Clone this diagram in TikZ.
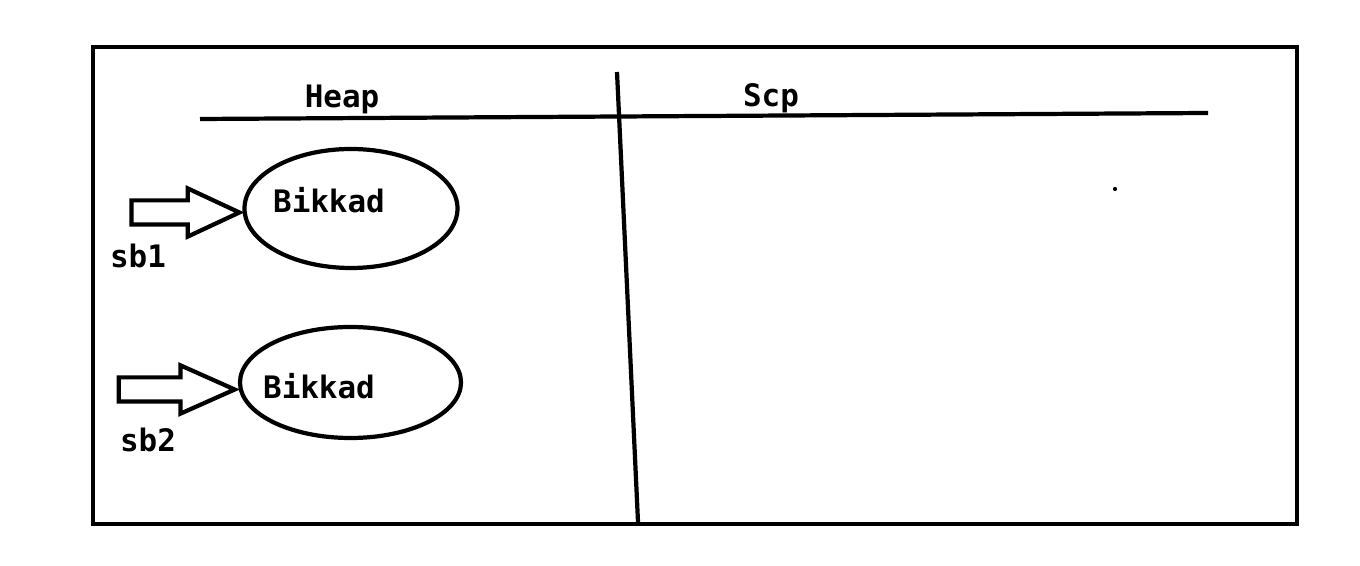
\documentclass[tikz,border=0pt]{standalone}
\usepackage{fontspec}
\setmonofont{DejaVu Sans Mono}
\usepackage{tikz}
\usetikzlibrary{shapes.geometric,shapes.arrows}

\begin{document}
\begin{tikzpicture}[
    thick line/.style={line width=1.2pt},
    txt/.style={font=\fontsize{8.8}{10}\ttfamily\bfseries, inner sep=0pt},
    obj/.style={draw, thick line, ellipse, inner sep=0pt},
    ref/.style={draw, thick line, single arrow, anchor=tip, inner sep=0.10cm,
      single arrow head extend=0.12cm,
      single arrow head indent=0pt}
  ]
  \useasboundingbox (0,0) rectangle (13.6,5.66);
  \draw[thick line] (0.93,0.42) rectangle (12.97,5.19);
  % heap and scp areas
  \coordinate (hl) at (2.00,4.47);
  \coordinate (hr) at (12.08,4.53);
  \coordinate (vt) at (6.17,4.94);
  \coordinate (vb) at (6.38,0.44);
  \draw[thick line] (hl) -- (hr);
  \draw[thick line] (vt) -- (vb);
  \node[txt] (heap) at (3.42,4.67) {Heap};
  \node[txt] (scp) at (7.71,4.68) {Scp};
  % objects
  \node[obj, minimum width=2.13cm, minimum height=1.19cm] (obj1) at (3.51,3.575) {};
  \node[obj, minimum width=2.21cm, minimum height=1.11cm] (obj2) at (3.505,1.835) {};
  \node[txt] (str1) at (3.29,3.66) {Bikkad};
  \node[txt] (str2) at (3.19,1.80) {Bikkad};
  % references
  \node[ref, minimum height=1.08cm, single arrow tip angle=50]
    (arr1) at ([shift={(0.02,-0.04)}]obj1.west) {};
  \node[ref, minimum height=1.16cm, single arrow tip angle=48]
    (arr2) at ([shift={(0.02,-0.07)}]obj2.west) {};
  \node[txt] (sb1) at (1.38,3.10) {sb1};
  \node[txt] (sb2) at (1.48,1.26) {sb2};
  \fill (11.15,3.77) circle (0.6pt);
\end{tikzpicture}
\end{document}
